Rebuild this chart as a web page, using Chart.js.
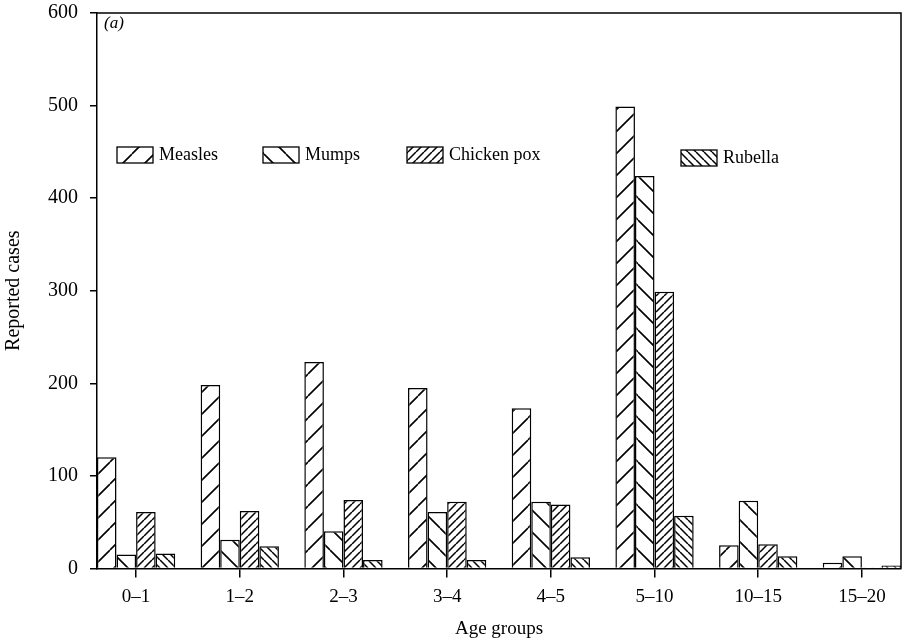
<!DOCTYPE html>
<html>
<head>
<meta charset="utf-8">
<script src="https://cdn.jsdelivr.net/npm/chart.js@4/dist/chart.umd.min.js"></script>
<style>
  html, body { margin: 0; padding: 0; background: #fff; }
  #wrap { width: 904px; height: 642px; }
</style>
</head>
<body>
<div id="wrap"><canvas id="chart" width="904" height="642"></canvas></div>
<script>
var ageGroups = ["0\u20131", "1\u20132", "2\u20133", "3\u20134", "4\u20135", "5\u201310", "10\u201315", "15\u201320"];
var measles    = [120, 198, 223, 195, 173, 499, 25, 6];
var mumps      = [15, 31, 40, 61, 72, 424, 73, 13];
var chickenPox = [61, 62, 74, 72, 69, 299, 26, 1];
var rubella    = [16, 24, 9, 9, 12, 57, 13, 3];
var yTicks     = [0, 100, 200, 300, 400, 500, 600];

var FONT = "'Liberation Serif', 'DejaVu Serif', serif";

// hatch fill: dir 1 = "/", dir -1 = "\"
function hatch(size, dir, lw) {
    var c = document.createElement("canvas");
    c.width = size; c.height = size;
    var g = c.getContext("2d");
    g.fillStyle = "#fff";
    g.fillRect(0, 0, size, size);
    g.strokeStyle = "#000";
    g.lineWidth = lw;
    g.beginPath();
    for (var k = -1; k <= 1; k++) {
        if (dir > 0) {
            g.moveTo(k * size, size);
            g.lineTo(k * size + size, 0);
        } else {
            g.moveTo(k * size, 0);
            g.lineTo(k * size + size, size);
        }
    }
    g.stroke();
    return g.createPattern(c, "repeat");
}

var ctx = document.getElementById("chart").getContext("2d");
// old-style typesetting is a bit loose
ctx.letterSpacing = "1px";
var fills = [hatch(22, 1, 1.6), hatch(22, -1, 1.6), hatch(8, 1, 1.5), hatch(8, -1, 1.5)];

function pts(arr) {
    return arr.map(function (v, i) { return { x: i, y: v }; });
}

var series = [
    { label: "Measles", data: measles },
    { label: "Mumps", data: mumps },
    { label: "Chicken pox", data: chickenPox },
    { label: "Rubella", data: rubella }
];

// frame (top/right) + in-plot legend + panel tag
var framePlugin = {
    id: "frame",
    afterDraw: function (chart) {
        var a = chart.chartArea;
        var c = chart.ctx;
        c.save();
        c.strokeStyle = "#000";
        c.lineWidth = 1.5;
        c.beginPath();
        c.moveTo(a.left, a.top);
        c.lineTo(a.right, a.top);
        c.lineTo(a.right, a.bottom);
        c.stroke();

        c.font = "italic 17px " + FONT;
        c.fillStyle = "#000";
        c.textBaseline = "middle";
        c.fillText("(a)", a.left + 7, a.top + 11);

        var lx = [117, 263, 407, 681];
        var ly = [155, 155, 155, 158];
        c.font = "18px " + FONT;
        c.letterSpacing = "0px";
        for (var i = 0; i < series.length; i++) {
            c.fillStyle = fills[i];
            c.fillRect(lx[i], ly[i] - 8, 36, 16);
            c.lineWidth = 1.3;
            c.strokeRect(lx[i], ly[i] - 8, 36, 16);
            c.fillStyle = "#000";
            c.fillText(series[i].label, lx[i] + 42, ly[i]);
        }
        c.restore();
    }
};

new Chart(ctx, {
    type: "bar",
    data: {
        datasets: series.map(function (s, i) {
            return {
                label: s.label,
                data: pts(s.data),
                backgroundColor: fills[i],
                borderColor: "#000",
                borderWidth: 1.5,
                barPercentage: 1.0,
                categoryPercentage: 0.755
            };
        })
    },
    options: {
        responsive: false,
        animation: false,
        layout: { padding: { top: 0, right: 3, left: 2, bottom: 2 } },
        plugins: {
            legend: { display: false },
            tooltip: { enabled: false }
        },
        scales: {
            x: {
                type: "linear",
                offset: false,
                min: -0.377,
                max: ageGroups.length - 1 + 0.377,
                grid: { offset: false, drawOnChartArea: false, color: "#000", lineWidth: 1.5, tickLength: 9 },
                border: { display: true, color: "#000", width: 1.5 },
                ticks: {
                    stepSize: 1,
                    includeBounds: false,
                    autoSkip: false,
                    maxRotation: 0,
                    color: "#000",
                    font: { family: FONT, size: 19 },
                    padding: 8,
                    callback: function (v) {
                        return Number.isInteger(v) ? ageGroups[v] : "";
                    }
                },
                title: { display: true, text: "Age groups", color: "#000", font: { family: FONT, size: 19 }, padding: { top: 1, bottom: 0 } }
            },
            y: {
                min: yTicks[0],
                max: yTicks[yTicks.length - 1],
                afterBuildTicks: function (scale) {
                    scale.ticks = yTicks.map(function (v) { return { value: v }; });
                },
                afterFit: function (scale) {
                    scale.paddingTop = 13;
                },
                grid: { drawOnChartArea: false, color: "#000", lineWidth: 1.5, tickLength: 7 },
                border: { display: true, color: "#000", width: 1.5 },
                ticks: {
                    color: "#000",
                    font: { family: FONT, size: 20 },
                    padding: 12
                },
                title: { display: true, text: "Reported cases", color: "#000", font: { family: FONT, size: 20 }, padding: { top: 0, bottom: 10 } }
            }
        }
    },
    plugins: [framePlugin]
});
</script>
</body>
</html>
